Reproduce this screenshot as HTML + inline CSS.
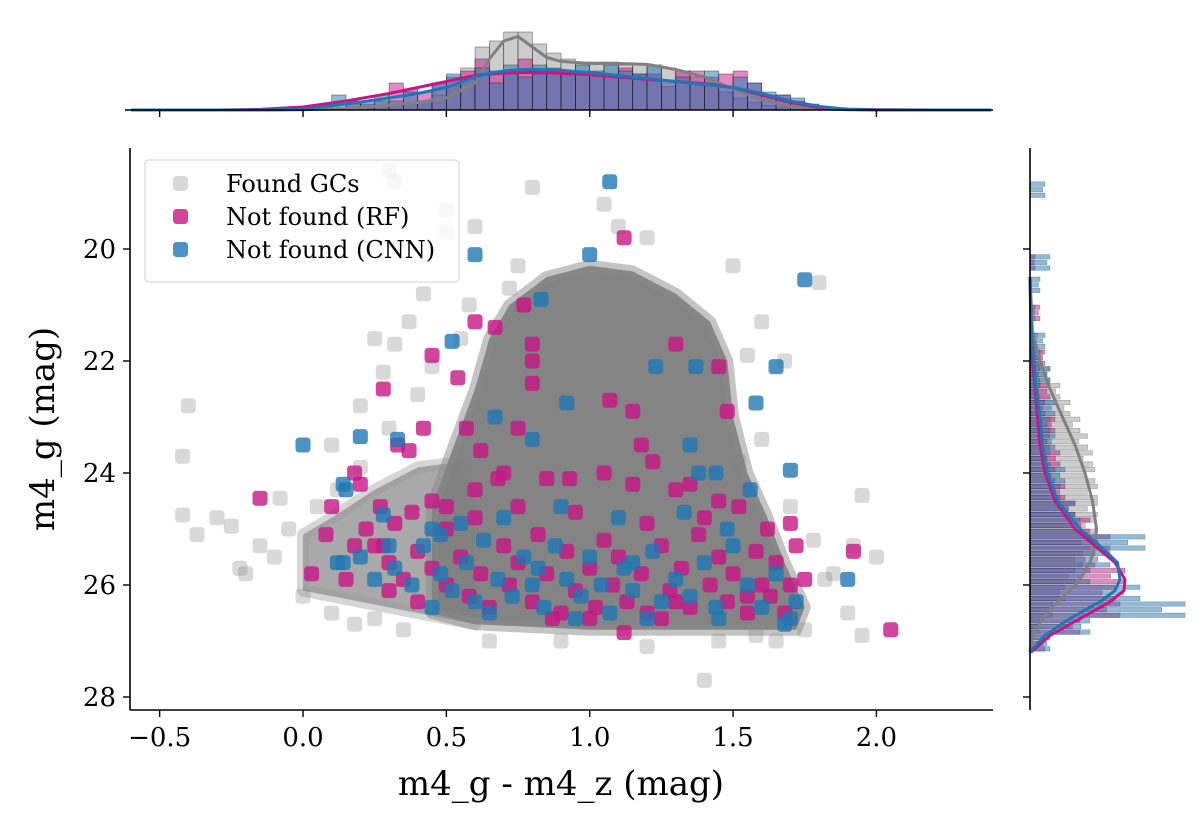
<!DOCTYPE html>
<html><head><meta charset="utf-8"><style>
body{margin:0;background:#fff}
svg{display:block}
text{font-family:"DejaVu Serif","Liberation Serif",serif;fill:#000}
</style></head><body>
<svg id="chart" width="1200" height="831" viewBox="0 0 1200 831" xmlns="http://www.w3.org/2000/svg">
<g id="main"></g>
<g id="top"></g>
<g id="right"></g>
<g id="axes"></g>
</svg>
<script>
// ---- data ----
const xTicks=[-0.5,0.0,0.5,1.0,1.5,2.0];
const xTickLabels=["\u22120.5","0.0","0.5","1.0","1.5","2.0"];
const yTicks=[20,22,24,26,28];
const yTickLabels=["20","22","24","26","28"];
// dense core of found GCs (outline in data coordinates)
const coreX=[0.45,0.52,0.6,0.65,0.72,0.85,1.0,1.15,1.3,1.42,1.48,1.5,1.55,1.62,1.68,1.75,1.72,1.4,1.0,0.6,0.45];
const coreY=[24.6,23.6,22.5,21.6,21.0,20.5,20.3,20.4,20.8,21.3,22.0,23.0,24.0,24.8,25.6,26.4,26.8,26.8,26.8,26.7,26.5];
const lobeX=[0.0,0.1,0.25,0.4,0.55,0.6,0.6,0.4,0.2,0.0];
const lobeY=[25.1,24.8,24.3,23.9,23.8,24.5,26.7,26.5,26.3,26.1];
const grayX=[0.3,0.32,0.5,0.8,0.6,0.5,-0.4,-0.42,0.25,0.32,-0.42,-0.37,-0.3,-0.25,-0.08,-0.1,-0.2,-0.22,0.0,0.1,1.95,2.0,1.92,1.85,1.9,1.95,1.4,1.45,1.8,1.5,1.6,1.68,1.55,1.05,1.1,1.2,0.2,0.37,0.42,0.75,0.72,-0.05,-0.15,0.05,0.12,0.2,0.3,0.4,0.28,0.45,0.55,0.58,1.6,1.7,1.78,1.82,1.75,1.65,1.58,1.52,0.65,0.9,1.2,0.1,0.18,0.25,0.35];
const grayY=[18.6,18.8,19.3,18.9,19.6,19.7,22.8,23.7,21.6,21.7,24.75,25.1,24.8,24.95,24.45,25.5,25.8,25.7,26.2,23.5,24.4,25.5,25.3,25.8,26.5,26.9,27.7,27.0,20.6,20.3,21.3,22.0,21.9,19.2,19.6,19.8,22.8,21.3,20.8,20.3,20.7,25.0,25.3,24.6,24.3,23.9,23.2,22.6,22.2,22.1,21.6,21.0,23.4,24.6,25.2,25.9,26.8,27.0,26.9,23.8,27.0,27.0,27.1,26.5,26.7,26.6,26.8];
const pinkX=[1.12,0.77,0.6,0.67,0.45,0.28,0.54,0.8,0.8,1.3,1.45,1.48,0.8,1.07,1.15,0.42,0.33,0.37,0.57,0.62,0.75,1.18,1.22,0.2,0.18,0.1,0.08,-0.15,0.03,0.27,0.32,0.28,0.45,0.5,0.6,0.7,0.68,0.85,0.93,1.05,1.15,1.3,1.35,1.45,1.52,1.62,1.7,1.72,1.65,1.75,1.92,2.05,1.12,1.3,1.6,1.55,
0.22,0.25,0.3,0.35,0.4,0.45,0.5,0.55,0.58,0.62,0.65,0.7,0.72,0.75,0.8,0.82,0.85,0.9,0.92,0.95,1.0,1.02,1.05,1.08,1.1,1.13,1.18,1.2,1.25,1.28,1.32,1.35,1.38,1.42,1.45,1.48,1.5,1.55,1.58,1.63,1.68,1.7,0.4,0.3,0.15,0.18,0.6,0.75,0.95,1.2,1.4,0.87,1.0,1.25,0.5,0.38];
const pinkY=[19.8,21.0,21.3,21.4,21.9,22.5,22.3,21.7,22.0,21.7,22.1,22.9,22.4,22.7,22.9,23.2,23.5,23.6,23.2,23.6,23.2,23.5,23.8,24.2,24.0,24.6,25.1,24.45,25.8,24.6,24.9,25.3,24.5,25.0,24.3,24.0,24.1,24.1,24.1,24.0,24.2,24.3,24.2,24.5,24.6,25.0,24.9,25.3,25.6,25.9,25.4,26.8,26.85,26.3,26.0,26.2,
25.0,25.3,25.6,25.9,25.4,25.7,26.0,25.5,26.2,25.8,26.4,25.3,26.0,25.6,26.3,25.1,25.8,26.5,25.4,26.1,25.7,26.4,25.2,26.0,25.5,26.3,25.8,26.5,25.3,26.1,25.7,26.4,25.1,26.0,25.5,26.3,25.8,26.5,25.4,26.2,26.5,26.0,26.3,26.1,25.9,25.3,24.8,24.6,24.7,24.9,24.8,26.6,26.6,26.6,24.6,24.7];
const blueX=[1.07,1.0,0.6,0.83,1.75,0.52,1.37,1.23,1.65,0.92,1.58,0.67,0.0,0.2,0.33,0.8,1.35,1.7,1.38,1.44,1.56,0.14,0.15,0.28,0.14,0.45,
0.12,0.2,0.25,0.32,0.38,0.42,0.48,0.52,0.57,0.6,0.63,0.68,0.73,0.77,0.8,0.84,0.88,0.92,0.97,1.0,1.04,1.07,1.12,1.15,1.22,1.25,1.3,1.35,1.4,1.44,1.5,1.55,1.6,1.65,1.7,1.72,0.55,0.7,0.9,1.1,1.33,1.48,0.45,0.65,0.95,1.2,1.45,0.3,0.48,0.82,1.15,1.9,1.68];
const blueY=[18.8,20.1,20.1,20.9,20.55,21.65,22.1,22.1,22.1,22.75,22.75,23.0,23.5,23.35,23.4,23.4,23.5,23.95,24.0,24.0,24.3,24.2,24.3,24.75,25.6,25.0,
25.6,25.5,25.9,25.7,26.0,25.3,25.8,26.1,25.6,26.3,25.2,25.9,26.2,25.5,26.0,26.4,25.3,25.9,26.2,25.5,26.0,26.5,25.7,26.1,25.4,26.3,25.9,26.2,25.6,26.4,25.3,26.0,26.4,25.8,26.6,26.3,24.9,24.8,24.6,24.8,24.7,25.0,26.4,26.5,26.6,26.6,26.6,25.3,25.1,25.7,25.6,25.9,26.7];
// top marginal histogram (bin left edges, densities)
const topBins=[0.05,0.1,0.15,0.2,0.25,0.3,0.35,0.4,0.45,0.5,0.55,0.6,0.65,0.7,0.75,0.8,0.85,0.9,0.95,1.0,1.05,1.1,1.15,1.2,1.25,1.3,1.35,1.4,1.45,1.5,1.55,1.6,1.65,1.7,1.75,1.8];
const topGray=[0,0,0,0.05,0.1,0.15,0.2,0.3,0.5,0.8,1.4,2.1,2.3,2.6,2.6,2.2,1.9,1.7,1.6,1.6,1.6,1.5,1.5,1.5,1.4,1.3,1.1,0.9,0.6,0.4,0.25,0.15,0.1,0,0,0];
const topPink=[0,0,0.2,0.2,0.3,0.9,0.7,0.6,0.9,1.1,1.3,1.7,1.3,1.2,1.7,1.2,1.3,1.2,1.2,1.3,1.2,1.4,1.2,1.2,0.8,1.3,1.3,1.1,1.2,1.3,0.9,0.5,0.5,0.3,0.2,0];
const topBlue=[0.2,0.5,0.3,0.3,0.5,0.3,0.6,0.3,0.9,1.2,1.1,1.4,0.9,1.5,1.1,1.5,1.4,1.3,1.5,1.2,1.5,1.3,1.2,1.5,0.9,1.1,0.9,1.3,0.8,1.1,0.9,0.6,0.5,0.4,0.1,0];
const kdeX=[-0.6,-0.3,-0.15,0.0,0.15,0.3,0.4,0.5,0.6,0.65,0.7,0.75,0.8,0.85,0.9,1.0,1.1,1.2,1.3,1.4,1.5,1.6,1.7,1.8,1.9,2.0,2.2,2.4];
const kdeGray=[0,0,0,0.01,0.05,0.15,0.25,0.4,0.9,1.7,2.3,2.45,2.1,1.75,1.62,1.55,1.55,1.52,1.35,1.1,0.7,0.35,0.12,0.04,0.01,0,0,0];
const kdePink=[0,0,0.02,0.1,0.3,0.55,0.75,0.95,1.15,1.2,1.23,1.25,1.25,1.24,1.22,1.18,1.1,1.02,0.95,0.88,0.75,0.5,0.25,0.08,0.03,0.01,0,0];
const kdeBlue=[0,0,0,0.02,0.2,0.4,0.55,0.75,1.1,1.22,1.3,1.34,1.35,1.34,1.32,1.25,1.15,1.05,0.95,0.85,0.75,0.55,0.3,0.12,0.02,0,0,0];
// right marginal (mag bins, densities)
const rBins=[18.8,20.1,20.5,21.0,21.5,21.8,22.1,22.4,22.7,23.0,23.3,23.6,23.9,24.2,24.5,24.8,25.1,25.4,25.7,26.0,26.3,26.6,26.9];
const rGray=[0,0,0,0.05,0.15,0.25,0.4,0.6,0.8,1.0,1.15,1.25,1.3,1.35,1.35,1.3,1.2,1.05,0.9,0.7,0.45,0.2,0.05];
const rPink=[0,0.1,0,0.2,0.1,0.3,0.2,0.4,0.3,0.5,0.4,0.6,0.5,0.7,0.9,1.2,1.6,1.3,1.9,1.7,1.8,1.0,0.3];
const rBlue=[0.3,0.4,0.2,0.1,0.3,0.2,0.4,0.2,0.5,0.4,0.5,0.4,0.7,0.6,0.9,1.0,2.3,1.6,1.2,2.2,3.1,1.2,0.4];
const rKdeY=[20.5,21.5,22.0,22.5,23.0,23.5,24.0,24.5,25.0,25.3,25.6,25.9,26.1,26.3,26.6,26.9,27.2];
const rKdeGray=[0,0.05,0.2,0.4,0.65,0.9,1.1,1.25,1.33,1.3,1.2,1.0,0.8,0.55,0.25,0.05,0];
const rKdePink=[0,0.02,0.05,0.1,0.15,0.2,0.3,0.5,0.9,1.3,1.7,1.9,1.88,1.6,1.0,0.4,0.02];
const rKdeBlue=[0,0.03,0.08,0.12,0.2,0.25,0.35,0.55,1.0,1.4,1.75,1.8,1.7,1.4,0.8,0.3,0];

// ---- scales ----
const X=v=>303+v*286.7;
const Y=v=>249+(v-20)*56;
const TY=d=>110-d*30;
const RX=d=>1030+d*50;
const NS="http://www.w3.org/2000/svg";
function mk(tag,attrs,parent){const e=document.createElementNS(NS,tag);for(const k in attrs)e.setAttribute(k,attrs[k]);parent.appendChild(e);return e;}
const main=document.getElementById('main'),top_=document.getElementById('top'),right=document.getElementById('right'),axes=document.getElementById('axes');

const defs=mk('defs',{},main);
const cp=mk('clipPath',{id:'mclip'},defs);mk('rect',{x:130,y:148,width:863,height:562},cp);
const plot=mk('g',{'clip-path':'url(#mclip)'},main);

const lobe=mk('polygon',{points:lobeX.map((x,i)=>X(x)+','+Y(lobeY[i])).join(' '),fill:'#8c8c8c','fill-opacity':'0.75',stroke:'#999','stroke-width':12,'stroke-linejoin':'round','stroke-opacity':'0.4'},plot);


const core=mk('polygon',{points:coreX.map((x,i)=>X(x)+','+Y(coreY[i])).join(' '),fill:'#808080','fill-opacity':'0.97',stroke:'#8a8a8a','stroke-width':12,'stroke-linejoin':'round','stroke-opacity':'0.5'},plot);


function marker(x,y,fill,op,name){
  const r=mk('rect',{x:X(x)-7.5,y:Y(y)-7.5,width:15,height:15,rx:3.5,fill:fill,'fill-opacity':op},plot);
  
  
}
grayX.forEach((x,i)=>marker(x,grayY[i],'#808080',0.3,'found-gc-point'));
pinkX.forEach((x,i)=>marker(x,pinkY[i],'#c71585',0.8,'not-found-rf-point'));
blueX.forEach((x,i)=>marker(x,blueY[i],'#1f77b4',0.8,'not-found-cnn-point'));

mk('line',{x1:130,y1:148,x2:130,y2:710,stroke:'#000','stroke-width':1.6},axes);
mk('line',{x1:130,y1:710,x2:993,y2:710,stroke:'#000','stroke-width':1.6},axes);
xTicks.forEach((t,i)=>{
  mk('line',{x1:X(t),y1:710,x2:X(t),y2:717,stroke:'#000','stroke-width':1.4},axes);
  const tx=mk('text',{x:X(t),y:746,'text-anchor':'middle','font-size':26},axes);tx.textContent=xTickLabels[i];
  
  
  mk('line',{x1:X(t),y1:110,x2:X(t),y2:117,stroke:'#000','stroke-width':1.4},axes);
});
yTicks.forEach((t,i)=>{
  mk('line',{x1:123,y1:Y(t),x2:130,y2:Y(t),stroke:'#000','stroke-width':1.4},axes);
  const tx=mk('text',{x:116,y:Y(t)+9,'text-anchor':'end','font-size':26},axes);tx.textContent=yTickLabels[i];
  
  
  mk('line',{x1:1023,y1:Y(t),x2:1030,y2:Y(t),stroke:'#000','stroke-width':1.4},axes);
});
let xl=mk('text',{x:561,y:795,'text-anchor':'middle','font-size':34},axes);xl.textContent='m4_g - m4_z (mag)';


let yl=mk('text',{x:0,y:0,'text-anchor':'middle','font-size':34,transform:'translate(54,429) rotate(-90)'},axes);yl.textContent='m4_g (mag)';



const lg=mk('g',{},axes);


mk('rect',{x:145,y:160,width:314,height:122,rx:4,fill:'#fff','fill-opacity':0.8,stroke:'#d0d0d0','stroke-width':1},lg);
[['Found GCs','#808080',0.3],['Not found (RF)','#c71585',0.8],['Not found (CNN)','#1f77b4',0.8]].forEach((e,i)=>{
  const g=mk('g',{},lg);
  
  
  mk('rect',{x:173,y:176+i*33,width:15,height:15,rx:3.5,fill:e[1],'fill-opacity':e[2]},g);
  const t=mk('text',{x:226,y:192+i*33,'font-size':24},g);t.textContent=e[0];
});

mk('line',{x1:125,y1:110,x2:993,y2:110,stroke:'#000','stroke-width':1.6},axes);
const bw=0.05;
function topBars(vals,fill,op,name){
  topBins.forEach((b,i)=>{ if(vals[i]<=0)return;
    const r=mk('rect',{x:X(b),y:TY(vals[i]),width:X(b+bw)-X(b),height:110-TY(vals[i]),fill:fill,'fill-opacity':op,stroke:'#000','stroke-opacity':0.45,'stroke-width':0.7},top_);
    
    
  });
}
topBars(topGray,'#808080',0.4,'top-hist-bar-found');
topBars(topPink,'#c71585',0.5,'top-hist-bar-rf');
topBars(topBlue,'#1f77b4',0.5,'top-hist-bar-cnn');
function topKde(vals,col,name){
  const p=mk('polyline',{points:kdeX.map((x,i)=>X(x)+','+TY(vals[i])).join(' '),fill:'none',stroke:col,'stroke-width':3,'stroke-linejoin':'round'},top_);
  
  
}
topKde(kdeGray,'#808080','top-kde-found');
topKde(kdePink,'#c71585','top-kde-rf');
topKde(kdeBlue,'#1f77b4','top-kde-cnn');

mk('line',{x1:1030,y1:148,x2:1030,y2:710,stroke:'#000','stroke-width':1.6},axes);
function rBars(vals,fill,op,name){
  rBins.forEach((b,i)=>{ if(vals[i]<=0)return;
    const next=i<rBins.length-1?Math.min(rBins[i+1],b+0.3):b+0.3;
    const h=Y(next)-Y(b);
    for(let k=0;k<3;k++){
      const r=mk('rect',{x:1030,y:Y(b)+k*h/3,width:RX(vals[i]*(k==1?0.85:1))-1030,height:h/3*0.8,fill:fill,'fill-opacity':op,stroke:'#000','stroke-opacity':0.35,'stroke-width':0.5},right);
      
      
    }
  });
}
rBars(rGray,'#808080',0.4,'right-hist-bar-found');
rBars(rPink,'#c71585',0.5,'right-hist-bar-rf');
rBars(rBlue,'#1f77b4',0.5,'right-hist-bar-cnn');
function rKde(vals,col,name){
  const p=mk('polyline',{points:rKdeY.map((y,i)=>RX(vals[i])+','+Y(y)).join(' '),fill:'none',stroke:col,'stroke-width':3,'stroke-linejoin':'round'},right);
  
  
}
rKde(rKdeGray,'#808080','right-kde-found');
rKde(rKdePink,'#c71585','right-kde-rf');
rKde(rKdeBlue,'#1f77b4','right-kde-cnn');
</script>
</body></html>
